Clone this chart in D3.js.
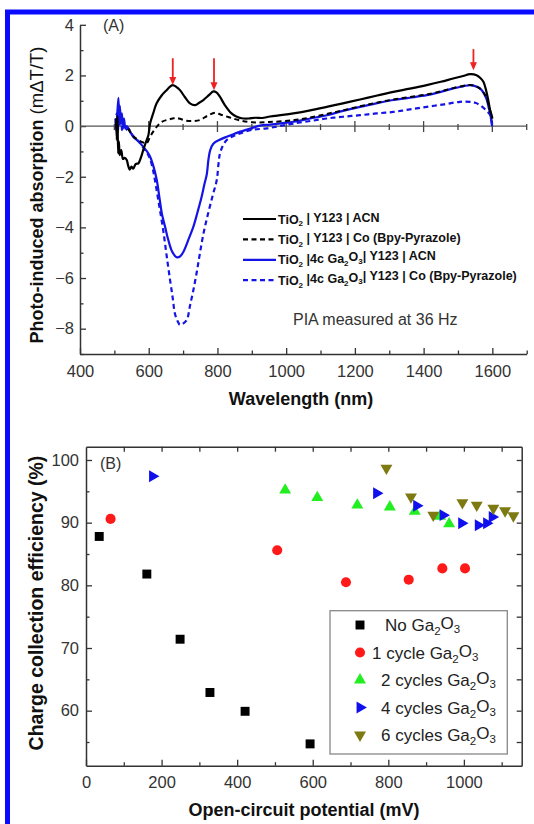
<!DOCTYPE html>
<html><head><meta charset="utf-8">
<script src="https://cdn.jsdelivr.net/npm/d3@7"></script>
<style>body{margin:0;background:#fff} svg{display:block}</style>
</head><body>
<svg id="c" width="534" height="824"></svg>
<script>
// ---------- Panel A data: [wavelength nm, PIA mΔT/T] ----------
const seriesA_labels = [
  "TiO_2 | Y123 | ACN",
  "TiO_2 | Y123 | Co (Bpy-Pyrazole)",
  "TiO_2 |4c Ga_2O_3| Y123 | ACN",
  "TiO_2 |4c Ga_2O_3| Y123 | Co (Bpy-Pyrazole)"
];
const tio2_acn = [[505,0.3],[507,-0.55],[509,0.4],[511,-1.08],[513,-0.6],[516,-1.15],[520,-0.95],[525,-1.3],[530,-1.25],[536,-1.34],[540,-1.55],[545,-1.72],[550,-1.6],[555,-1.68],[562,-1.5],[570,-1.47],[577,-1.25],[584,-0.95],[592,-0.62],[599,-0.36],[604,0.1],[613,0.5],[623,0.9],[637,1.2],[652,1.42],[662,1.56],[670,1.62],[680,1.55],[691,1.42],[705,1.15],[720,0.9],[735,0.83],[747,0.92],[759,1.03],[775,1.22],[788,1.37],[797,1.33],[807,1.16],[822,0.82],[841,0.5],[855,0.38],[870,0.31],[890,0.3],[910,0.33],[930,0.32],[953,0.38],[990,0.44],[1021,0.5],[1070,0.62],[1118,0.76],[1165,0.9],[1215,1.05],[1262,1.2],[1312,1.35],[1360,1.48],[1409,1.62],[1450,1.75],[1486,1.88],[1515,1.98],[1535,2.05],[1554,2.01],[1565,1.9],[1574,1.75],[1582,1.4],[1588,1.03],[1594,0.6],[1598,0.43],[1600,0.3]];
const tio2_co = [[540,-0.1],[555,-0.4],[570,-0.55],[584,-0.65],[594,-0.68],[603,-0.45],[613,-0.22],[625,0.0],[638,0.17],[655,0.25],[670,0.3],[681,0.32],[695,0.27],[710,0.21],[730,0.2],[749,0.24],[770,0.4],[793,0.53],[810,0.45],[836,0.34],[866,0.22],[900,0.15],[950,0.16],[1021,0.23],[1070,0.34],[1118,0.48],[1165,0.62],[1215,0.78],[1262,0.92],[1312,1.05],[1360,1.15],[1409,1.25],[1450,1.37],[1486,1.5],[1535,1.62],[1560,1.52],[1580,1.2],[1592,0.7],[1600,0.3]];
const ga_acn = [[503,0.3],[506,-0.2],[509,0.6],[512,1.12],[514,0.2],[516,0.8],[519,0.1],[522,0.5],[525,-0.1],[528,0.3],[532,-0.1],[536,0.0],[545,-0.2],[555,-0.42],[570,-0.6],[584,-0.82],[595,-1.0],[604,-1.21],[614,-1.6],[623,-2.1],[632,-2.9],[638,-3.44],[648,-4.0],[657,-4.5],[668,-4.95],[681,-5.18],[691,-5.15],[701,-4.96],[715,-4.5],[730,-3.97],[742,-3.4],[754,-2.79],[762,-2.3],[769,-1.9],[774,-1.3],[779,-0.95],[788,-0.7],[805,-0.55],[827,-0.42],[850,-0.3],[866,-0.22],[900,-0.08],[924,0.02],[953,0.06],[990,0.12],[1021,0.17],[1070,0.3],[1118,0.43],[1165,0.6],[1215,0.76],[1262,0.9],[1312,1.03],[1360,1.12],[1409,1.22],[1450,1.35],[1486,1.49],[1515,1.57],[1535,1.62],[1550,1.58],[1564,1.49],[1575,1.3],[1584,1.03],[1590,0.7],[1594,0.5],[1598,0.1],[1600,0.0]];
const ga_co = [[504,0.1],[507,0.5],[510,-0.3],[513,0.7],[516,0.0],[519,0.4],[523,-0.2],[527,0.2],[532,-0.15],[540,-0.1],[555,-0.4],[570,-0.6],[584,-0.85],[595,-1.05],[604,-1.3],[612,-1.7],[618,-2.13],[630,-3.1],[642,-4.1],[652,-5.1],[662,-6.07],[670,-6.8],[676,-7.39],[684,-7.7],[691,-7.85],[700,-7.8],[711,-7.65],[720,-7.1],[730,-6.47],[740,-5.75],[749,-5.02],[760,-4.2],[773,-3.44],[786,-2.75],[798,-2.13],[803,-1.5],[807,-1.1],[815,-0.8],[827,-0.55],[845,-0.4],[866,-0.29],[900,-0.15],[943,-0.09],[980,0.0],[1021,0.1],[1070,0.2],[1118,0.3],[1165,0.37],[1215,0.43],[1262,0.5],[1312,0.56],[1360,0.66],[1409,0.76],[1460,0.86],[1506,0.96],[1535,0.96],[1550,0.92],[1564,0.83],[1580,0.65],[1594,0.43],[1600,0.0]];
// red arrows: [wavelength, tip value, tail value]
const arrowsA = [[670,1.62,2.68],[790,1.42,2.68],[1545,2.21,3.04]];
const xTicksA = [400,600,800,1000,1200,1400,1600];
const yTicksA = [-8,-6,-4,-2,0,2,4];

// ---------- Panel B data: [Voc mV, efficiency %] ----------
const seriesB_labels = ["No Ga_2O_3","1 cycle Ga_2O_3","2 cycles Ga_2O_3","4 cycles Ga_2O_3","6 cycles Ga_2O_3"];
const noGa = [[35,87.8],[161,81.8],[249,71.4],[328,62.9],[421,59.9],[593,54.7]];
const ga1 = [[65,90.6],[506,85.6],[688,80.5],[854,80.9],[943,82.7],[1003,82.7]];
const ga2 = [[527,95.2],[612,94.0],[718,92.8],[804,92.5],[870,91.8],[937,91.0],[961,89.8]];
const ga4 = [[176,97.4],[769,94.7],[875,92.7],[945,91.2],[994,89.9],[1038,89.6],[1060,89.9],[1075,90.9]];
const ga6 = [[795,98.7],[860,94.1],[919,91.2],[996,93.2],[1034,92.8],[1078,92.3],[1109,91.9],[1131,91.1]];
const xTicksB = [0,200,400,600,800,1000];
const yTicksB = [60,70,80,90,100];

// ---------- drawing ----------
const W=534,H=824;
const FONT="'Liberation Sans', Arial, sans-serif";
const svg=d3.select("#c").style("font-family",FONT);
svg.append("rect").attr("width",W).attr("height",H).attr("fill","#fff");
svg.append("rect").attr("x",7.5).attr("y",12).attr("width",W+20).attr("height",H+20)
  .attr("fill","none").attr("stroke","#0a0aff").attr("stroke-width",5);

const AX="#333";
function richText(sel, str, subSize){
  const parts=[]; let buf="";
  for(let i=0;i<str.length;i++){
    if(str[i]==="_"&&i+1<str.length){ if(buf) parts.push([buf,false]); buf=""; parts.push([str[i+1],true]); i++; }
    else buf+=str[i];
  }
  if(buf) parts.push([buf,false]);
  let lowered=false;
  parts.forEach(([t,sub])=>{
    const ts=sel.append("tspan").text(t);
    if(sub){ ts.attr("font-size",subSize); if(!lowered){ts.attr("dy","0.35em");lowered=true;} }
    else if(lowered){ ts.attr("dy","-0.35em"); lowered=false; }
  });
}
function styleAxis(g,fs){
  g.attr("font-family",FONT).attr("font-size",fs);
  g.selectAll(".domain").attr("stroke",AX).attr("stroke-width",1.5);
  g.selectAll(".tick line").attr("stroke",AX).attr("stroke-width",1.3);
  g.selectAll(".tick text").attr("fill","#333");
}

// ===== Panel A =====
const xA=d3.scaleLinear([400,1700],[80,526.7]);
const yA=d3.scaleLinear([-9,4],[354,24.8]);
const gA=svg.append("g");
const la=gA.append("g").attr("transform",`translate(${xA.range()[0]},0)`)
  .call(d3.axisLeft(yA).tickValues(yTicksA).tickSize(-6).tickSizeOuter(0).tickPadding(6).tickFormat(d3.format("d")));
styleAxis(la,16.5);
const lam=gA.append("g").attr("transform",`translate(${xA.range()[0]},0)`)
  .call(d3.axisLeft(yA).tickValues(d3.range(-9,5,1).filter(v=>v%2!==0)).tickSize(-3.5).tickFormat(""));
lam.select(".domain").remove(); styleAxis(lam,10);
const ba=gA.append("g").attr("transform",`translate(0,${yA(-9)})`)
  .call(d3.axisBottom(xA).tickValues(xTicksA).tickSize(-6).tickSizeOuter(0).tickPadding(11).tickFormat(d3.format("d")));
styleAxis(ba,16.5);
const bam=gA.append("g").attr("transform",`translate(0,${yA(-9)})`)
  .call(d3.axisBottom(xA).tickValues(d3.range(500,1800,200)).tickSize(-3.5).tickFormat(""));
bam.select(".domain").remove(); styleAxis(bam,10);
gA.append("line").attr("x1",xA(400)).attr("x2",xA(1700)).attr("y1",yA(0)).attr("y2",yA(0))
  .attr("stroke","#555").attr("stroke-width",1.4);
gA.selectAll(".zt").data(d3.range(500,1800,100)).join("line")
  .attr("x1",d=>xA(d)).attr("x2",d=>xA(d))
  .attr("y1",d=>yA(0)-(d%200===0?5:2)).attr("y2",d=>yA(0)+(d%200===0?6:4))
  .attr("stroke","#444").attr("stroke-width",1.3);

const lineA=d3.line().x(d=>xA(d[0])).y(d=>yA(d[1])).curve(d3.curveCatmullRom.alpha(0.5));
const specA=[
  {data:tio2_acn,color:"#000",dash:null,w:2.2},
  {data:tio2_co,color:"#000",dash:"5,3.5",w:2},
  {data:ga_acn,color:"#1414e6",dash:null,w:2.2},
  {data:ga_co,color:"#1414e6",dash:"5,3.5",w:2.2}
];
[3,2,1,0].forEach(i=>{
  const s=specA[i];
  gA.append("path").datum(s.data).attr("d",lineA).attr("fill","none")
    .attr("stroke",s.color).attr("stroke-width",s.w).attr("stroke-dasharray",s.dash)
    .attr("stroke-linejoin","round");
});
const RED="#ee2222";
arrowsA.forEach(([wl,tip,tail])=>{
  const x=xA(wl), y1=yA(tail), y2=yA(tip);
  gA.append("line").attr("x1",x).attr("x2",x).attr("y1",y1).attr("y2",y2-6).attr("stroke",RED).attr("stroke-width",1.8);
  gA.append("path").attr("d",`M${x-3.5},${y2-8}L${x+3.5},${y2-8}L${x},${y2}Z`).attr("fill",RED);
});
gA.append("text").attr("x",103).attr("y",31).attr("font-size",16).attr("fill","#333").text("(A)");
seriesA_labels.forEach((lab,i)=>{
  const y=219+i*20.4, s=specA[i];
  gA.append("line").attr("x1",243).attr("x2",276).attr("y1",y).attr("y2",y)
    .attr("stroke",s.color).attr("stroke-width",2.2).attr("stroke-dasharray",s.dash?"5,3.5":null);
  const t=gA.append("text").attr("x",278).attr("y",y+4.5).attr("font-size",12.5).attr("font-weight","bold").attr("fill","#111");
  richText(t,lab,8);
});
gA.append("text").attr("x",293).attr("y",325).attr("font-size",16).attr("fill","#333").text("PIA measured at 36 Hz");
gA.append("text").attr("x",301).attr("y",405).attr("text-anchor","middle").attr("font-size",18)
  .attr("font-weight","bold").attr("fill","#111").text("Wavelength (nm)");
const yTitleA=gA.append("text").attr("transform","translate(43,195) rotate(-90)").attr("text-anchor","middle")
  .attr("font-size",18).attr("font-weight","bold").attr("fill","#111");
yTitleA.append("tspan").text("Photo-induced absorption ");
yTitleA.append("tspan").attr("font-weight","normal").attr("font-size",18.5).text("(mΔT/T)");

// ===== Panel B =====
const xB=d3.scaleLinear([0,1153],[86,521.7]);
const yB=d3.scaleLinear([51.22,102.12],[765.7,446.7]);
const gB=svg.append("g");
const [bx0,bx1]=xB.range(), [by0,by1]=yB.range();
const lb=gB.append("g").attr("transform",`translate(${bx0},0)`)
  .call(d3.axisLeft(yB).tickValues(yTicksB).tickSize(-6).tickSizeOuter(0).tickPadding(7).tickFormat(d3.format("d")));
styleAxis(lb,16.5);
const lbm=gB.append("g").attr("transform",`translate(${bx0},0)`)
  .call(d3.axisLeft(yB).tickValues(d3.range(55,101,10)).tickSize(-3.5).tickFormat(""));
lbm.select(".domain").remove(); styleAxis(lbm,10);
const rb=gB.append("g").attr("transform",`translate(${bx1},0)`)
  .call(d3.axisRight(yB).tickValues(d3.range(55,101,5)).tickSize(-5).tickSizeOuter(0).tickFormat(""));
styleAxis(rb,10);
const bb=gB.append("g").attr("transform",`translate(0,${by0})`)
  .call(d3.axisBottom(xB).tickValues(xTicksB).tickSize(-6).tickSizeOuter(0).tickPadding(10.5).tickFormat(d3.format("d")));
styleAxis(bb,16.5);
const bbm=gB.append("g").attr("transform",`translate(0,${by0})`)
  .call(d3.axisBottom(xB).tickValues(d3.range(100,1200,200)).tickSize(-3.5).tickFormat(""));
bbm.select(".domain").remove(); styleAxis(bbm,10);
const tb=gB.append("g").attr("transform",`translate(0,${by1})`)
  .call(d3.axisTop(xB).tickValues(d3.range(100,1200,100)).tickSize(-5).tickSizeOuter(0).tickFormat(""));
styleAxis(tb,10);

const specB=[
  {data:noGa,color:"#000",type:d3.symbolSquare,size:80,rot:0},
  {data:ga1,color:"#ff1a1a",type:d3.symbolCircle,size:80,rot:0},
  {data:ga2,color:"#22ee22",type:d3.symbolTriangle,size:62,rot:0},
  {data:ga4,color:"#1010ee",type:d3.symbolTriangle,size:62,rot:90},
  {data:ga6,color:"#7d7a12",type:d3.symbolTriangle,size:62,rot:180}
];
specB.forEach(s=>{
  const sym=d3.symbol().type(s.type).size(s.size);
  gB.selectAll(null).data(s.data).join("path").attr("d",sym)
    .attr("transform",d=>`translate(${xB(d[0])},${yB(d[1])}) rotate(${s.rot})`)
    .attr("fill",s.color);
});
gB.append("text").attr("x",100).attr("y",469).attr("font-size",16).attr("fill","#333").text("(B)");
gB.append("rect").attr("x",330).attr("y",610.7).attr("width",177.3).attr("height",143.3)
  .attr("fill","#fff").attr("stroke","#888").attr("stroke-width",1.3);
const legX=[385,372,381,381,381];
seriesB_labels.forEach((lab,i)=>{
  const y=625+i*27.5, s=specB[i];
  gB.append("path").attr("d",d3.symbol().type(s.type).size(s.size)())
    .attr("transform",`translate(360,${y}) rotate(${s.rot})`).attr("fill",s.color);
  const t=gB.append("text").attr("x",legX[i]).attr("y",y+6).attr("font-size",17).attr("fill","#222");
  richText(t,lab,11.5);
});
gB.append("text").attr("x",304).attr("y",816).attr("text-anchor","middle").attr("font-size",18)
  .attr("font-weight","bold").attr("fill","#111").text("Open-circuit potential (mV)");
gB.append("text").attr("transform","translate(43,603) rotate(-90)").attr("text-anchor","middle")
  .attr("font-size",19.5).attr("font-weight","bold").attr("fill","#111").text("Charge collection efficiency (%)");
</script>
</body></html>
